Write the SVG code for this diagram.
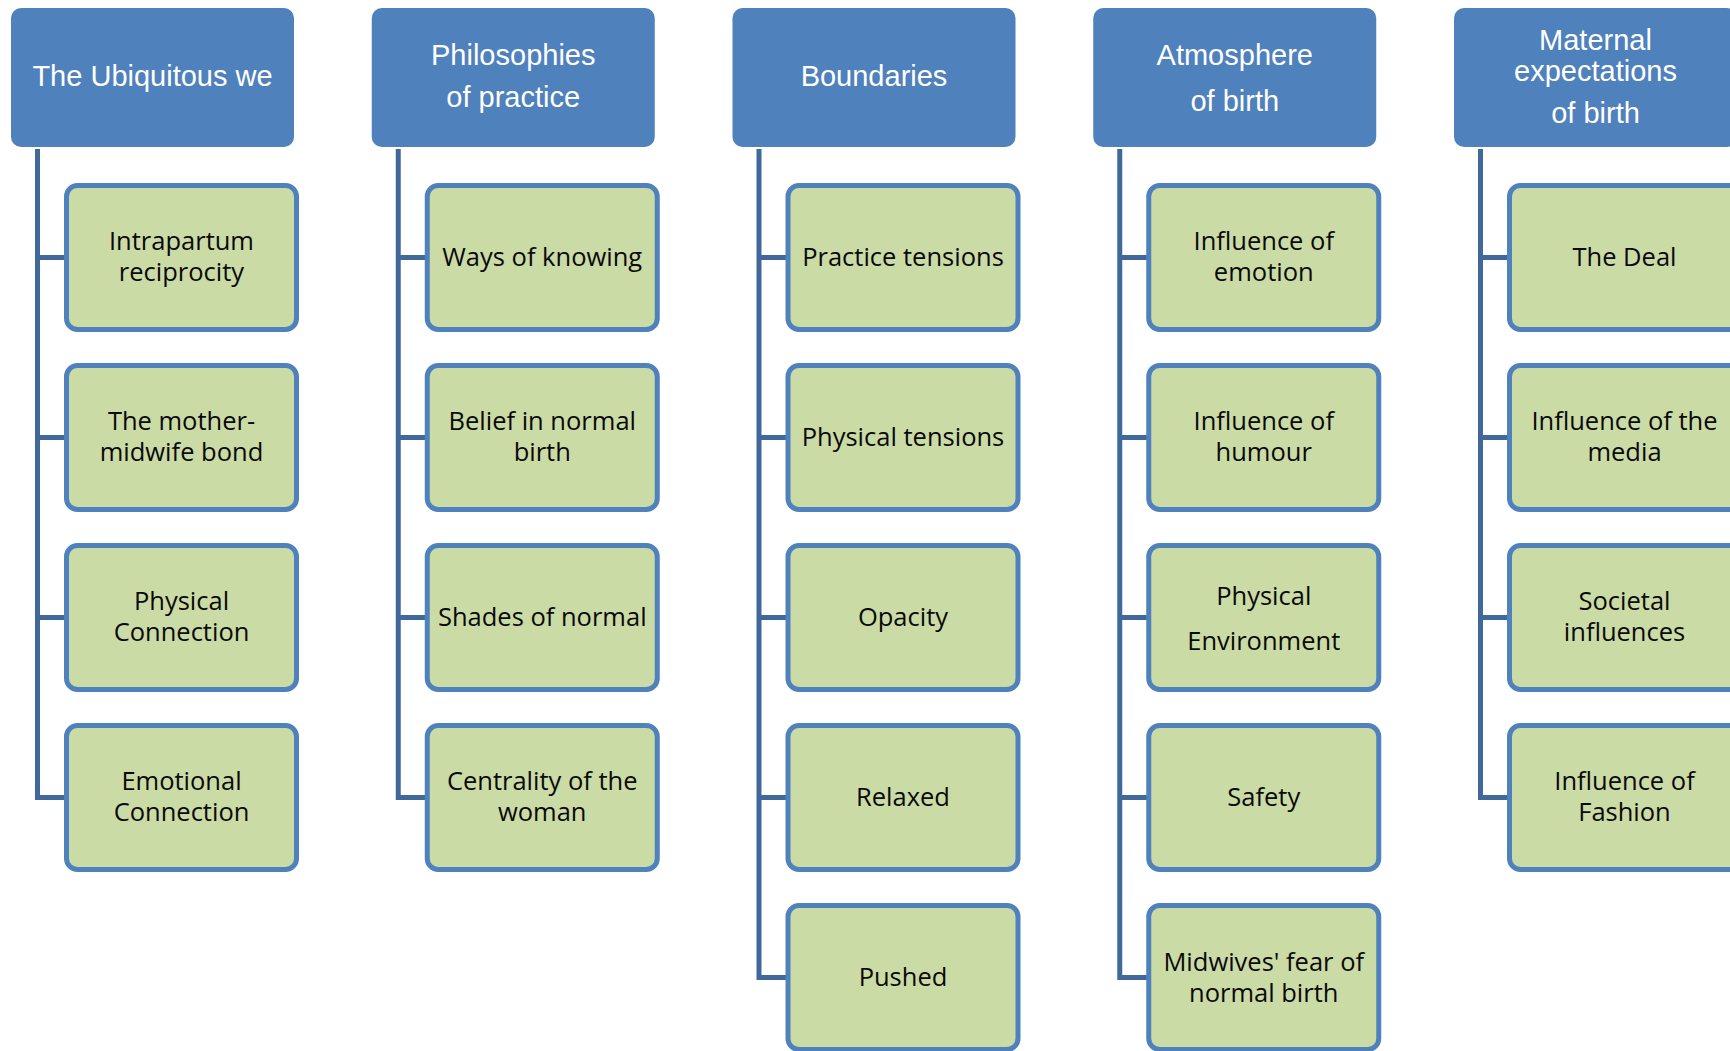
<svg xmlns="http://www.w3.org/2000/svg" width="1730" height="1051" viewBox="0 0 1730 1051">
  <style>
    .hdr rect { fill: #4F81BD; }
    .hdr text { font-family: "Liberation Sans", Arial, sans-serif; font-size: 29px; fill: #FFFFFF; text-anchor: middle; }
    .sub rect { fill: #CBDBA6; stroke: #4F81BD; stroke-width: 5; }
    .sub text { font-family: "Open Sans", "Noto Sans", sans-serif; font-size: 25.5px; fill: #0A0A0A; text-anchor: middle; }
    .conn path { fill: none; stroke: #41689B; stroke-width: 5; stroke-linejoin: miter; stroke-linecap: butt; }
  </style>

  <rect width="1730" height="1051" fill="#FFFFFF"/>

  <!-- tree connectors: one trunk per column with a branch to each child -->
  <g class="conn" id="connectors">
    <path d="M37.5 149 V797.5 H66 M37.5 257.5 H66 M37.5 437.5 H66 M37.5 617.5 H66"/>
    <path d="M398.25 149 V797.5 H427 M398.25 257.5 H427 M398.25 437.5 H427 M398.25 617.5 H427"/>
    <path d="M759 149 V977.5 H788 M759 257.5 H788 M759 437.5 H788 M759 617.5 H788 M759 797.5 H788"/>
    <path d="M1119.75 149 V977.5 H1148 M1119.75 257.5 H1148 M1119.75 437.5 H1148 M1119.75 617.5 H1148 M1119.75 797.5 H1148"/>
    <path d="M1480.5 149 V797.5 H1509 M1480.5 257.5 H1509 M1480.5 437.5 H1509 M1480.5 617.5 H1509"/>
  </g>

  <!-- column headers -->
  <g class="hdr" id="hdr-ubiquitous">
    <rect x="11" y="8" width="283" height="139" rx="10"/>
    <text x="152.5" y="86">The Ubiquitous we</text>
  </g>
  <g class="hdr" id="hdr-philosophies">
    <rect x="371.75" y="8" width="283" height="139" rx="10"/>
    <text x="513.25" y="65">Philosophies</text>
    <text x="513.25" y="107">of practice</text>
  </g>
  <g class="hdr" id="hdr-boundaries">
    <rect x="732.5" y="8" width="283" height="139" rx="10"/>
    <text x="874" y="86">Boundaries</text>
  </g>
  <g class="hdr" id="hdr-atmosphere">
    <rect x="1093.25" y="8" width="283" height="139" rx="10"/>
    <text x="1234.75" y="65">Atmosphere</text>
    <text x="1234.75" y="111">of birth</text>
  </g>
  <g class="hdr" id="hdr-maternal">
    <rect x="1454" y="8" width="283" height="139" rx="10"/>
    <text x="1595.5" y="50">Maternal</text>
    <text x="1595.5" y="81">expectations</text>
    <text x="1595.5" y="123">of birth</text>
  </g>

  <!-- column 1 -->
  <g class="sub" id="n-intrapartum">
    <rect x="66.5" y="185.5" width="230" height="144" rx="11"/>
    <text x="181.5" y="249.5">Intrapartum</text>
    <text x="181.5" y="281">reciprocity</text>
  </g>
  <g class="sub" id="n-bond">
    <rect x="66.5" y="365.5" width="230" height="144" rx="11"/>
    <text x="181.5" y="429.5">The mother-</text>
    <text x="181.5" y="461">midwife bond</text>
  </g>
  <g class="sub" id="n-physical-connection">
    <rect x="66.5" y="545.5" width="230" height="144" rx="11"/>
    <text x="181.5" y="609.5">Physical</text>
    <text x="181.5" y="641">Connection</text>
  </g>
  <g class="sub" id="n-emotional-connection">
    <rect x="66.5" y="725.5" width="230" height="144" rx="11"/>
    <text x="181.5" y="789.5">Emotional</text>
    <text x="181.5" y="821">Connection</text>
  </g>

  <!-- column 2 -->
  <g class="sub" id="n-ways">
    <rect x="427.25" y="185.5" width="230" height="144" rx="11"/>
    <text x="542.25" y="266">Ways of knowing</text>
  </g>
  <g class="sub" id="n-belief">
    <rect x="427.25" y="365.5" width="230" height="144" rx="11"/>
    <text x="542.25" y="429.5">Belief in normal</text>
    <text x="542.25" y="461">birth</text>
  </g>
  <g class="sub" id="n-shades">
    <rect x="427.25" y="545.5" width="230" height="144" rx="11"/>
    <text x="542.25" y="626">Shades of normal</text>
  </g>
  <g class="sub" id="n-centrality">
    <rect x="427.25" y="725.5" width="230" height="144" rx="11"/>
    <text x="542.25" y="789.5">Centrality of the</text>
    <text x="542.25" y="821">woman</text>
  </g>

  <!-- column 3 -->
  <g class="sub" id="n-practice">
    <rect x="788" y="185.5" width="230" height="144" rx="11"/>
    <text x="903" y="266">Practice tensions</text>
  </g>
  <g class="sub" id="n-physical-tensions">
    <rect x="788" y="365.5" width="230" height="144" rx="11"/>
    <text x="903" y="446">Physical tensions</text>
  </g>
  <g class="sub" id="n-opacity">
    <rect x="788" y="545.5" width="230" height="144" rx="11"/>
    <text x="903" y="626">Opacity</text>
  </g>
  <g class="sub" id="n-relaxed">
    <rect x="788" y="725.5" width="230" height="144" rx="11"/>
    <text x="903" y="806">Relaxed</text>
  </g>
  <g class="sub" id="n-pushed">
    <rect x="788" y="905.5" width="230" height="144" rx="11"/>
    <text x="903" y="986">Pushed</text>
  </g>

  <!-- column 4 -->
  <g class="sub" id="n-emotion">
    <rect x="1148.75" y="185.5" width="230" height="144" rx="11"/>
    <text x="1263.75" y="249.5">Influence of</text>
    <text x="1263.75" y="281">emotion</text>
  </g>
  <g class="sub" id="n-humour">
    <rect x="1148.75" y="365.5" width="230" height="144" rx="11"/>
    <text x="1263.75" y="429.5">Influence of</text>
    <text x="1263.75" y="461">humour</text>
  </g>
  <g class="sub" id="n-environment">
    <rect x="1148.75" y="545.5" width="230" height="144" rx="11"/>
    <text x="1263.75" y="604.5">Physical</text>
    <text x="1263.75" y="649.5">Environment</text>
  </g>
  <g class="sub" id="n-safety">
    <rect x="1148.75" y="725.5" width="230" height="144" rx="11"/>
    <text x="1263.75" y="806">Safety</text>
  </g>
  <g class="sub" id="n-fear">
    <rect x="1148.75" y="905.5" width="230" height="144" rx="11"/>
    <text x="1263.75" y="970.5">Midwives' fear of</text>
    <text x="1263.75" y="1002">normal birth</text>
  </g>

  <!-- column 5 -->
  <g class="sub" id="n-deal">
    <rect x="1509.5" y="185.5" width="230" height="144" rx="11"/>
    <text x="1624.5" y="266">The Deal</text>
  </g>
  <g class="sub" id="n-media">
    <rect x="1509.5" y="365.5" width="230" height="144" rx="11"/>
    <text x="1624.5" y="429.5">Influence of the</text>
    <text x="1624.5" y="461">media</text>
  </g>
  <g class="sub" id="n-societal">
    <rect x="1509.5" y="545.5" width="230" height="144" rx="11"/>
    <text x="1624.5" y="609.5">Societal</text>
    <text x="1624.5" y="641">influences</text>
  </g>
  <g class="sub" id="n-fashion">
    <rect x="1509.5" y="725.5" width="230" height="144" rx="11"/>
    <text x="1624.5" y="789.5">Influence of</text>
    <text x="1624.5" y="821">Fashion</text>
  </g>
</svg>
